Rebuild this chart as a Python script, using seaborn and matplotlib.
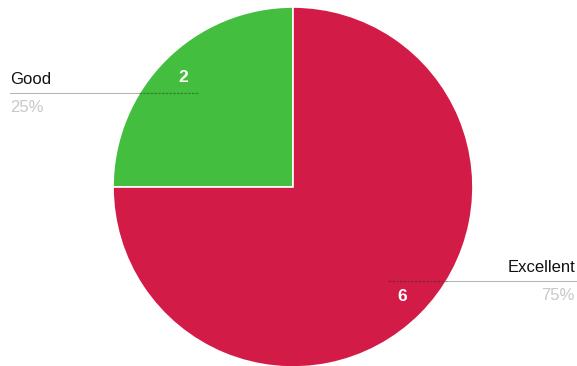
import matplotlib
matplotlib.use("Agg")
import matplotlib.pyplot as plt
import seaborn as sns
import numpy as np

# data
ratings = ["Good", "Excellent"]
counts = [2, 6]
colors = ["#43be3f", "#d31b47"]

sns.set_theme(style="white")
plt.rcParams['font.family'] = ['Liberation Sans', 'DejaVu Sans']

W, H = 577, 366
fig = plt.figure(figsize=(W / 100, H / 100), dpi=100)
ax = fig.add_axes([0, 0, 1, 1])

cx, cy, R = 293, H - 187, 180
total = sum(counts)

wedges, _, autotexts = ax.pie(
    counts, colors=colors, startangle=90, counterclock=True,
    center=(cx, cy), radius=R, frame=True,
    autopct=lambda p: f"{round(p * total / 100)}", pctdistance=0.86,
    wedgeprops=dict(edgecolor="white", linewidth=1.2),
    textprops=dict(color="white", fontsize=12.5, fontweight="bold"))

# outside labels with a leader line, like the original
label_pos = {"Good": (10, H - 80, "left"), "Excellent": (575, H - 268, "right")}
for w, name, n in zip(wedges, ratings, counts):
    tx, ty, ha = label_pos[name]
    mid = np.deg2rad((w.theta1 + w.theta2) / 2)
    ly = ty - 13
    # where the line leaves the slice edge and where it stops inside it
    edge_x = cx + np.sign(np.cos(mid)) * np.sqrt(R ** 2 - (ly - cy) ** 2)
    inner_x = cx + np.cos(mid) * R * 0.75
    ax.text(tx, ty, name, ha=ha, va="center", fontsize=12, color="#111111")
    ax.text(tx, ty - 27, f"{n / total:.0%}", ha=ha, va="center",
            fontsize=12, color="#c8c8c8")
    x0 = tx if ha == "left" else W
    ax.plot([x0, edge_x], [ly, ly], color="#b8b8b8", lw=0.8, zorder=3)
    ax.plot([edge_x, inner_x], [ly, ly], color="#1a3a1a", lw=0.9,
            ls=(0, (2, 1)), alpha=0.45, zorder=3)

ax.set_xlim(0, W)
ax.set_ylim(0, H)
ax.set_aspect("equal")
ax.set_axis_off()

fig.savefig("out.png", dpi=100)
